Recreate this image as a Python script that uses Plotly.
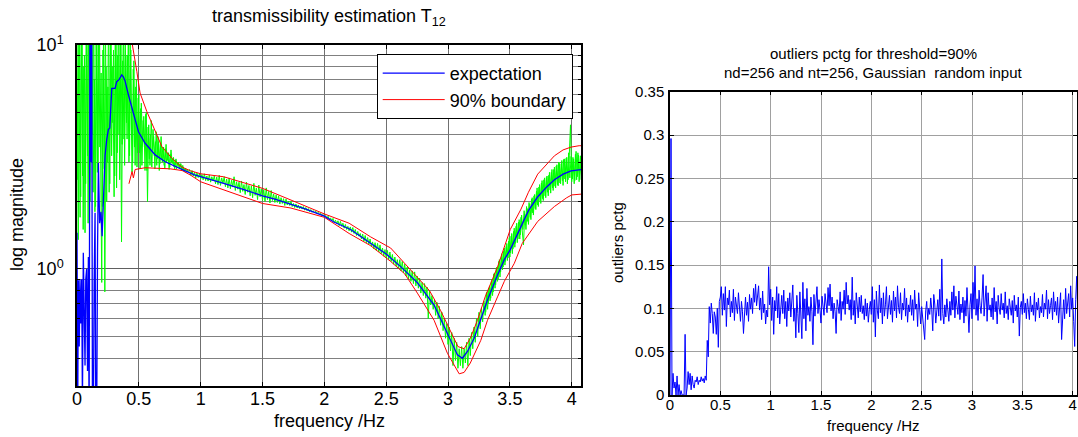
import plotly.graph_objects as go

# ---------------- data: left panel (transmissibility) ----------------
exp_freq = [0.000, 0.006, 0.011, 0.018, 0.024, 0.031, 0.038, 0.044, 0.051, 0.058,
            0.065, 0.071, 0.078, 0.085, 0.092, 0.098, 0.105, 0.112, 0.119, 0.125,
            0.132, 0.139, 0.146, 0.152, 0.159, 0.166, 0.173, 0.183, 0.194, 0.203,
            0.213, 0.227, 0.240, 0.254, 0.265, 0.281, 0.308, 0.321, 0.340, 0.362,
            0.375, 0.389, 0.416, 0.457, 0.497, 0.551, 0.632, 0.713, 0.794, 0.875,
            0.95, 1.037, 1.186, 1.35, 1.5, 1.6, 1.726, 1.85, 2.0, 2.077,
            2.212, 2.347, 2.5, 2.617, 2.752, 2.887, 2.968, 3.035, 3.076, 3.116,
            3.157, 3.211, 3.265, 3.319, 3.4, 3.455, 3.503, 3.59, 3.65, 3.725,
            3.8, 3.86, 3.93, 3.995, 4.06, 4.085]
exp_val = [1.45, 0.25, 0.89, 0.45, 0.9, 0.57, 0.9, 0.25, 1.18, 0.45,
           0.37, 0.9, 1.0, 0.35, 1.13, 0.2, 15, 3.0, 15, 0.2,
           0.2, 0.9, 1.78, 0.2, 0.2, 1.2, 2.97, 1.6, 1.8, 1.4,
           2.0, 3.2, 3.77, 4.2, 4.25, 6.4, 6.4, 6.86, 7.0, 7.35,
           7.2, 6.9, 5.98, 4.96, 4.1, 3.64, 3.23, 3.01, 2.86, 2.74,
           2.63, 2.55, 2.41, 2.26, 2.12, 2.05, 1.95, 1.85, 1.72, 1.62,
           1.5, 1.33, 1.165, 1.024, 0.869, 0.69, 0.553, 0.458, 0.413, 0.399,
           0.428, 0.49, 0.592, 0.727, 0.94, 1.1, 1.22, 1.55, 1.82, 2.1,
           2.33, 2.5, 2.65, 2.74, 2.77, 2.78]

up_freq = [0.42, 0.448, 0.484, 0.51, 0.565, 0.632, 0.686, 0.767, 0.848, 0.92,
           1.0, 1.186, 1.35, 1.5, 1.73, 2.0, 2.2, 2.374, 2.536, 2.698,
           2.85, 2.941, 3.03, 3.08, 3.13, 3.18, 3.238, 3.3, 3.4, 3.455,
           3.503, 3.59, 3.65, 3.725, 3.8, 3.86, 3.93, 3.995, 4.06, 4.085]
up_val = [13, 10, 7.6, 6.1, 5.04, 4.1, 3.52, 3.12, 2.85, 2.74,
          2.66, 2.58, 2.43, 2.29, 2.03, 1.76, 1.6, 1.39, 1.24, 0.99,
          0.8, 0.65, 0.51, 0.45, 0.44, 0.49, 0.59, 0.75, 1.02, 1.25,
          1.5, 1.85, 2.2, 2.65, 2.95, 3.2, 3.4, 3.5, 3.55, 3.55]

lo_freq = [0.42, 0.435, 0.445, 0.456, 0.47, 0.55, 0.65, 0.75, 0.85, 0.92,
           1.0, 1.186, 1.35, 1.5, 1.73, 2.0, 2.2, 2.374, 2.536, 2.65,
           2.752, 2.887, 2.995, 3.05, 3.09, 3.13, 3.18, 3.265, 3.319, 3.4,
           3.455, 3.536, 3.6, 3.725, 3.86, 3.96, 4.0, 4.085]
lo_val = [2.4, 2.6, 2.72, 2.55, 2.78, 2.83, 2.82, 2.8, 2.75, 2.62,
          2.45, 2.25, 2.1, 1.96, 1.87, 1.70, 1.44, 1.27, 1.08, 0.95,
          0.78, 0.59, 0.42, 0.37, 0.34, 0.345, 0.38, 0.48, 0.59, 0.75,
          0.88, 1.06, 1.3, 1.63, 1.9, 2.08, 2.14, 2.16]

# individual estimates (green), one value every 0.01 Hz starting at 0 Hz
est_df = 0.01
est_val = [
    12, 1.35, 15, 2.1, 20, 1.5, 9, 2.4, 14, 1.6,
    11, 3.5, 18, 2.2, 7, 1.9, 12, 3.0, 16, 2.5,
    0.87, 9.5, 2.8, 13, 2.0, 6.5, 2.2, 11, 3.2, 8,
    2.1, 14, 2.3, 9, 4.0, 12, 1.32, 8.5, 3.8, 11,
    4.5, 9, 3.0, 10.5, 4.2,
    3.0, 8.5, 2.9, 7.0, 3.3, 6.0, 2.8, 5.5, 3.6, 4.8,
    2.75, 5.0, 2.0, 4.4, 2.9, 4.6, 3.4, 3.9, 2.8, 4.1,
    3.1, 3.7, 2.95, 3.9, 3.0, 3.5, 2.8, 3.6, 3.05, 3.3,
    2.85, 3.4, 2.95, 3.15, 2.8, 3.1, 2.9, 3.0, 2.8, 2.95,
    2.75, 2.85, 2.72, 2.8, 2.74, 2.72,
    2.78, 2.62, 2.75, 2.60, 2.70, 2.55, 2.68, 2.56, 2.66, 2.52,
    2.64, 2.50, 2.66, 2.48, 2.60, 2.47, 2.63, 2.44, 2.58, 2.47,
    2.60, 2.40, 2.57, 2.38, 2.62, 2.36, 2.55, 2.41, 2.58, 2.33,
    2.52, 2.30, 2.55, 2.28, 2.49, 2.32, 2.58, 2.24, 2.45, 2.27,
    2.44, 2.19, 2.47, 2.22, 2.38, 2.15, 2.44, 2.20, 2.36, 2.12,
    2.35, 2.08, 2.41, 2.13, 2.30, 2.04, 2.37, 2.10, 2.28, 2.02,
    2.26, 2.00, 2.30, 2.04, 2.22, 1.97, 2.24, 2.02, 2.16, 1.98,
    2.14, 1.98, 2.12, 1.95, 2.08, 1.96, 2.06, 1.92, 2.05, 1.93,
    2.01, 1.92, 2.00, 1.90, 1.96, 1.88, 1.95, 1.87, 1.93, 1.86,
    1.91, 1.85, 1.90, 1.83, 1.88, 1.82, 1.86, 1.80, 1.84, 1.79,
    1.82, 1.78, 1.81, 1.76, 1.79, 1.75, 1.77, 1.73, 1.75, 1.71,
    1.73, 1.68, 1.72, 1.66, 1.69, 1.64, 1.68, 1.61, 1.65, 1.59,
    1.64, 1.56, 1.63, 1.55, 1.60, 1.52, 1.58, 1.50, 1.55, 1.48,
    1.54, 1.46, 1.53, 1.44, 1.50, 1.41, 1.47, 1.40, 1.44, 1.36,
    1.43, 1.33, 1.41, 1.31, 1.38, 1.29, 1.36, 1.26, 1.32, 1.23,
    1.31, 1.21, 1.30, 1.19, 1.28, 1.17, 1.24, 1.14, 1.22, 1.12,
    1.21, 1.10, 1.19, 1.08, 1.16, 1.05, 1.13, 1.03, 1.10, 1.00,
    1.10, 0.98, 1.08, 0.96, 1.05, 0.93, 1.02, 0.90, 0.99, 0.88,
    0.98, 0.86, 0.97, 0.84, 0.93, 0.82, 0.91, 0.78, 0.87, 0.76,
    0.86, 0.74, 0.83, 0.60, 0.80, 0.69, 0.76, 0.66, 0.73, 0.62,
    0.71, 0.60, 0.68, 0.56, 0.64, 0.53, 0.60, 0.49, 0.57, 0.46,
    0.55, 0.43, 0.52, 0.37, 0.49, 0.39, 0.47, 0.36, 0.44, 0.37,
    0.45, 0.36, 0.44, 0.38, 0.47, 0.37, 0.49, 0.41, 0.52, 0.44,
    0.55, 0.47, 0.60, 0.50, 0.64, 0.54, 0.67, 0.58, 0.72, 0.62,
    0.78, 0.66, 0.82, 0.72, 0.88, 0.76, 0.95, 0.82, 1.01, 0.88,
    1.08, 0.92, 1.12, 0.99, 1.20, 1.04, 1.26, 1.09, 1.33, 1.13,
    1.40, 1.17, 1.47, 1.25, 1.55, 1.31, 1.62, 1.36, 1.70, 1.43,
    1.28, 1.76, 1.50, 1.86, 1.58, 1.95, 1.66, 2.08, 1.74, 2.15,
    1.84, 2.30, 1.90, 2.38, 1.96, 2.48, 2.02, 2.55, 2.08, 2.60,
    2.12, 2.70, 2.18, 2.78, 2.24, 2.85, 2.30, 2.92, 2.35, 2.96,
    2.40, 3.05, 2.36, 3.10, 2.45, 3.15, 2.50, 3.20, 4.40, 2.45,
    3.15, 2.40, 3.25, 2.50, 3.30, 2.45, 3.20, 2.55,
]

# second estimate trace at low frequencies (starts at 0.005 Hz, every 0.01 Hz)
est2_start = 0.005
est2_val = [
    2.5, 10, 1.7, 13, 2.6, 8, 1.45, 16, 3.2, 12,
    2.0, 9, 4.0, 15, 1.8, 10, 2.7, 13, 3.5, 7.5,
    1.9, 12, 0.79, 8, 3.0, 14, 2.4, 10, 4.5, 9.5,
    2.6, 11, 3.3, 15, 2.5, 10, 3.6, 13, 2.9, 9,
    3.8, 12, 3.2, 9.5, 2.7, 7.8, 3.5, 6.5, 2.85, 5.8,
    3.3, 5.2, 2.9, 4.6, 3.5, 4.9, 2.75, 4.3, 3.1, 4.0,
    2.85, 4.2, 3.2, 3.7, 2.9, 3.9, 2.75, 3.6, 3.1, 3.5,
    2.9, 3.45, 3.0, 3.3, 2.78, 3.25, 3.0, 3.1, 2.85, 3.05,
    2.8, 3.0, 2.85, 2.95, 2.76, 2.9, 2.74, 2.82, 2.7, 2.76,
]

# third estimate trace at high frequencies (starts at 3.305 Hz, every 0.01 Hz)
est3_start = 3.305
est3_val = [
    0.64, 0.79, 0.70, 0.84, 0.74, 0.90, 0.79, 0.96, 0.85, 1.02,
    0.90, 1.10, 0.97, 1.17, 1.02, 1.24, 1.08, 1.30, 1.12, 1.38,
    1.18, 1.44, 1.23, 1.52, 1.30, 1.60, 1.36, 1.66, 1.42, 1.74,
    1.50, 1.82, 1.57, 1.90, 1.63, 1.98, 1.70, 2.05, 1.78, 2.12,
    1.86, 2.22, 1.93, 2.32, 2.00, 2.42, 2.06, 2.50, 2.12, 2.56,
    2.20, 2.62, 2.25, 2.70, 2.30, 2.78, 2.34, 2.88, 2.38, 3.00,
    2.42, 2.95, 2.48, 3.08, 2.52, 3.12, 2.40, 3.30, 2.55, 3.18,
    2.52, 3.10, 2.48, 3.35, 2.58, 3.22, 2.50, 3.05,
]

# ---------------- data: right panel (outliers percentage) ----------------
out_df = 0.01
out_val = [
    0.0, 0.296, 0.0, 0.025, 0.008, 0.015, 0.0, 0.022, 0.0, 0.012,
    0.0, 0.005, 0.0, 0.0, 0.0, 0.07, 0.0, 0.008, 0.027, 0.012,
    0.025, 0.006, 0.022, 0.012, 0.008, 0.017, 0.015, 0.021, 0.012, 0.017,
    0.015, 0.021, 0.016, 0.019, 0.014, 0.022, 0.017, 0.063, 0.044, 0.102,
    0.083, 0.106, 0.094, 0.071, 0.096, 0.09, 0.07, 0.1, 0.055, 0.108,
    0.113, 0.125, 0.092, 0.117, 0.098, 0.125, 0.079, 0.112, 0.104, 0.121,
    0.090, 0.108, 0.095, 0.122, 0.086, 0.113, 0.100, 0.094, 0.118, 0.102,
    0.085, 0.108, 0.096, 0.071, 0.104, 0.113, 0.092, 0.107, 0.085, 0.116,
    0.099, 0.112, 0.094, 0.123, 0.107, 0.128, 0.103, 0.118, 0.126, 0.098,
    0.112, 0.087, 0.120, 0.095, 0.105, 0.082, 0.098, 0.090, 0.148, 0.104,
    0.122, 0.086, 0.113, 0.070, 0.109, 0.097, 0.125, 0.089, 0.117, 0.082,
    0.102, 0.115, 0.094, 0.121, 0.088, 0.108, 0.079, 0.112, 0.097, 0.118,
    0.090, 0.106, 0.127, 0.085, 0.100, 0.066, 0.115, 0.094, 0.072, 0.119,
    0.097, 0.065, 0.130, 0.088, 0.111, 0.074, 0.123, 0.092, 0.102, 0.085,
    0.113, 0.096, 0.058, 0.116, 0.091, 0.108, 0.125, 0.094, 0.110, 0.098,
    0.083, 0.114, 0.100, 0.092, 0.117, 0.101, 0.095, 0.124, 0.103, 0.128,
    0.097, 0.113, 0.088, 0.106, 0.096, 0.071, 0.110, 0.102, 0.094, 0.119,
    0.086, 0.108, 0.099, 0.121, 0.093, 0.130, 0.105, 0.115, 0.098, 0.110,
    0.087, 0.136, 0.092, 0.109, 0.082, 0.118, 0.100, 0.089, 0.113, 0.096,
    0.115, 0.094, 0.103, 0.087, 0.111, 0.091, 0.106, 0.084, 0.099, 0.108,
    0.093, 0.125, 0.084, 0.110, 0.067, 0.120, 0.097, 0.088, 0.127, 0.095,
    0.112, 0.082, 0.118, 0.091, 0.104, 0.125, 0.088, 0.100, 0.115, 0.093,
    0.109, 0.084, 0.120, 0.097, 0.113, 0.089, 0.126, 0.101, 0.094, 0.118,
    0.087, 0.106, 0.098, 0.123, 0.091, 0.112, 0.084, 0.104, 0.096, 0.115,
    0.092, 0.110, 0.086, 0.121, 0.099, 0.105, 0.079, 0.118, 0.094, 0.082,
    0.102, 0.089, 0.076, 0.064, 0.097, 0.108, 0.087, 0.100, 0.093, 0.112,
    0.099, 0.074, 0.116, 0.105, 0.083, 0.096, 0.110, 0.091, 0.122, 0.086,
    0.157, 0.094, 0.082, 0.104, 0.090, 0.111, 0.097, 0.085, 0.108, 0.092,
    0.119, 0.098, 0.126, 0.089, 0.114, 0.101, 0.093, 0.120, 0.087, 0.105,
    0.095, 0.113, 0.083, 0.109, 0.091, 0.124, 0.096, 0.072, 0.104, 0.117,
    0.088, 0.130, 0.099, 0.149, 0.092, 0.111, 0.086, 0.121, 0.103, 0.094,
    0.113, 0.139, 0.091, 0.107, 0.126, 0.085, 0.118, 0.098, 0.104, 0.090,
    0.112, 0.087, 0.124, 0.096, 0.108, 0.082, 0.115, 0.100, 0.093, 0.117,
    0.098, 0.106, 0.089, 0.119, 0.094, 0.103, 0.087, 0.111, 0.099, 0.092,
    0.109, 0.083, 0.115, 0.097, 0.104, 0.090, 0.113, 0.068, 0.101, 0.108,
    0.093, 0.117, 0.095, 0.106, 0.088, 0.111, 0.099, 0.087, 0.114, 0.096,
    0.104, 0.092, 0.118, 0.085, 0.107, 0.098, 0.112, 0.089, 0.102, 0.095,
    0.116, 0.090, 0.106, 0.099, 0.121, 0.088, 0.110, 0.094, 0.103, 0.112,
    0.087, 0.119, 0.096, 0.108, 0.092, 0.113, 0.083, 0.101, 0.118, 0.064,
    0.098, 0.110, 0.088, 0.123, 0.094, 0.105, 0.117, 0.090, 0.126, 0.099,
    0.112, 0.085, 0.056, 0.110, 0.137, 0.098, 0.090, 0.120, 0.100,
]

x_ticks = [0, 0.5, 1, 1.5, 2, 2.5, 3, 3.5, 4]
x_tick_text = ["0", "0.5", "1", "1.5", "2", "2.5", "3", "3.5", "4"]
left_y_ticks = [1, 10]
left_y_tick_text = ["10<sup>0</sup>", "10<sup>1</sup>"]
left_y_minor = [0.3, 0.4, 0.5, 0.6, 0.7, 0.8, 0.9, 2, 3, 4, 5, 6, 7, 8, 9]
right_y_ticks = [0, 0.05, 0.1, 0.15, 0.2, 0.25, 0.3, 0.35]
right_y_tick_text = ["0", "0.05", "0.1", "0.15", "0.2", "0.25", "0.3", "0.35"]

est_freq = [i * est_df for i in range(len(est_val))]
est2_freq = [est2_start + i * est_df for i in range(len(est2_val))]
est3_freq = [est3_start + i * est_df for i in range(len(est3_val))]
out_freq = [i * out_df for i in range(len(out_val))]

FONT = "Liberation Sans, Arial, sans-serif"
W, H = 1078, 437

fig = go.Figure()

for fx, fy in ((est_freq, est_val), (est2_freq, est2_val), (est3_freq, est3_val)):
    fig.add_trace(go.Scatter(x=fx, y=fy, mode="lines",
                             line=dict(color="#00ff00", width=1),
                             showlegend=False, xaxis="x", yaxis="y"))
fig.add_trace(go.Scatter(x=up_freq, y=up_val, mode="lines", name="90% boundary",
                         line=dict(color="#ff0000", width=1), legendrank=2,
                         xaxis="x", yaxis="y"))
fig.add_trace(go.Scatter(x=lo_freq, y=lo_val, mode="lines", name="90% boundary",
                         line=dict(color="#ff0000", width=1), showlegend=False,
                         xaxis="x", yaxis="y"))
fig.add_trace(go.Scatter(x=exp_freq, y=exp_val, mode="lines", name="expectation",
                         line=dict(color="#0000ff", width=1.3), legendrank=1,
                         xaxis="x", yaxis="y"))
fig.add_trace(go.Scatter(x=out_freq, y=out_val, mode="lines",
                         line=dict(color="#0000ff", width=1),
                         showlegend=False, xaxis="x2", yaxis="y2"))


def px_x(p):
    return p / W


def px_y(p):
    return (H - p) / H


common_axis = dict(showline=True, linecolor="black", linewidth=1.5, mirror="ticks",
                   ticks="inside", ticklen=4, tickcolor="black", zeroline=False,
                   showgrid=True, automargin=False)

fig.update_layout(
    width=W, height=H,
    margin=dict(l=0, r=0, t=0, b=0, autoexpand=False),
    paper_bgcolor="white", plot_bgcolor="white",
    font=dict(family=FONT, color="black"),
    xaxis=dict(domain=[px_x(77), px_x(581)], range=[0, 4.075],
               tickvals=x_ticks, ticktext=x_tick_text,
               tickfont=dict(size=18), gridcolor="#707070", ticklabelstandoff=-4,
               anchor="y", **common_axis),
    yaxis=dict(domain=[px_y(386), px_y(45)], type="log", range=[-0.5229, 1],
               tickvals=left_y_ticks, ticktext=left_y_tick_text,
               tickfont=dict(size=18), gridcolor="#606060", ticklabelstandoff=8,
               minor=dict(tickvals=left_y_minor, showgrid=True, gridcolor="#808080",
                          ticks="inside", ticklen=3, tickcolor="black"),
               anchor="x", **common_axis),
    xaxis2=dict(domain=[px_x(670), px_x(1077)], range=[0, 4.043],
                tickvals=x_ticks, ticktext=x_tick_text,
                tickfont=dict(size=15), gridcolor="#a0a0a0", ticklabelstandoff=-5,
                anchor="y2", **common_axis),
    yaxis2=dict(domain=[px_y(395), px_y(91.7)], range=[0, 0.35],
                tickvals=right_y_ticks, ticktext=right_y_tick_text,
                tickfont=dict(size=15), gridcolor="#a0a0a0", ticklabelstandoff=1,
                anchor="x2", **common_axis),
    legend=dict(x=px_x(572.7), y=px_y(54), xanchor="right", yanchor="top",
                bgcolor="white", bordercolor="black", borderwidth=1,
                font=dict(size=18), tracegroupgap=2, itemwidth=62),
    annotations=[
        dict(text="transmissibility estimation T<sub>12</sub>", x=px_x(329), y=px_y(18),
             xref="paper", yref="paper", showarrow=False, font=dict(size=18),
             xanchor="center", yanchor="middle"),
        dict(text="log magnitude", x=px_x(17), y=px_y(215), textangle=-90,
             xref="paper", yref="paper", showarrow=False, font=dict(size=18),
             xanchor="center", yanchor="middle"),
        dict(text="frequency /Hz", x=px_x(329), y=px_y(421),
             xref="paper", yref="paper", showarrow=False, font=dict(size=18),
             xanchor="center", yanchor="middle"),
        dict(text="outliers pctg for threshold=90%", x=px_x(873), y=px_y(53),
             xref="paper", yref="paper", showarrow=False, font=dict(size=15),
             xanchor="center", yanchor="middle"),
        dict(text="nd=256 and nt=256, Gaussian  random input", x=px_x(873), y=px_y(72),
             xref="paper", yref="paper", showarrow=False, font=dict(size=15),
             xanchor="center", yanchor="middle"),
        dict(text="outliers pctg", x=px_x(617), y=px_y(243), textangle=-90,
             xref="paper", yref="paper", showarrow=False, font=dict(size=15),
             xanchor="center", yanchor="middle"),
        dict(text="frequency /Hz", x=px_x(873), y=px_y(425),
             xref="paper", yref="paper", showarrow=False, font=dict(size=15),
             xanchor="center", yanchor="middle"),
    ],
)

fig.write_html("out.html")
